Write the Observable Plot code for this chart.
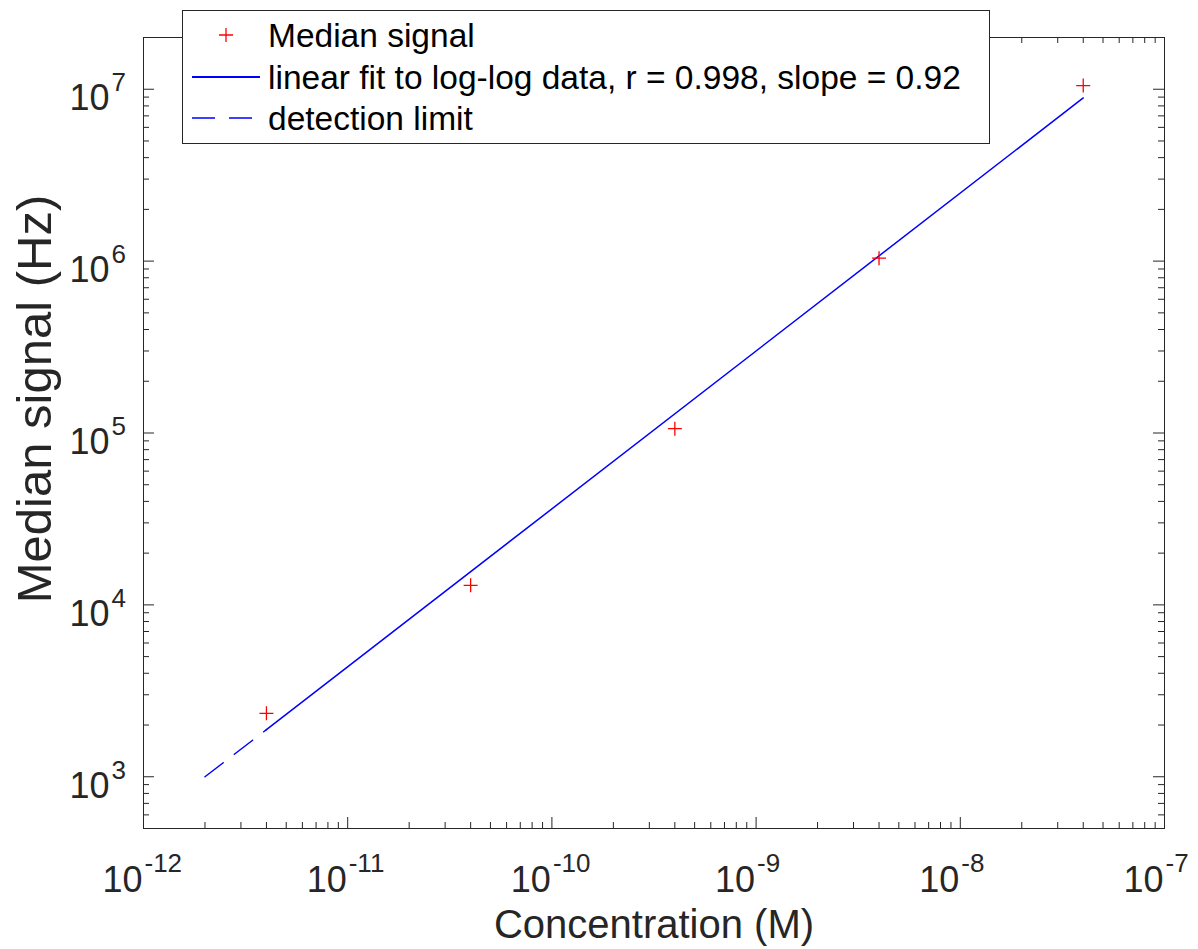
<!DOCTYPE html>
<html><head><meta charset="utf-8">
<script src="https://cdn.jsdelivr.net/npm/d3@7"></script>
<script src="https://cdn.jsdelivr.net/npm/@observablehq/plot@0.6"></script>
<style>body{margin:0;background:#fff;} #chart{position:relative;width:1198px;height:949px;}</style>
</head><body><div id="chart"></div>
<script>
// ---- data ----
const concentration = [4e-12, 4e-11, 4e-10, 4e-9, 4e-8];
const medianSignal = [2340, 13000, 106000, 1040000, 10500000];
const fitX = [4e-12, 4e-8];
const fitY = [1880, 8.9e6];
const detX = [2e-12, 4e-12];
const detY = [1000, 1880];
const xDomain = [1e-12, 1e-7];
const yDomain = [500, 2e7];
const xMajor = [1e-12, 1e-11, 1e-10, 1e-9, 1e-8, 1e-7];
const xExpLabels = ["-12", "-11", "-10", "-9", "-8", "-7"];
const yMajor = [1e3, 1e4, 1e5, 1e6, 1e7];
const yExpLabels = ["3", "4", "5", "6", "7"];
const minorMult = [2, 3, 4, 5, 6, 7, 8, 9];
const legendLabels = ["Median signal", "linear fit to log-log data, r = 0.998, slope = 0.92", "detection limit"];
const xLabel = "Concentration (M)";
const yLabel = "Median signal (Hz)";

// ---- layout ----
const W = 1198, H = 949, mL = 143, mR = 34, mT = 37, mB = 121;
const innerW = W - mL - mR, innerH = H - mT - mB;
const FONT = "'Liberation Sans', Arial, Helvetica, sans-serif";
const AX = "#262626";
const MAJ = 11, MIN = 6;

const xMinor = [];
for (let e = -12; e < -7; e++) for (const m of minorMult) xMinor.push(m * Math.pow(10, e));
const yMinor = [];
for (let e = 2; e <= 7; e++) for (const m of minorMult) { const v = m * Math.pow(10, e); if (v > yDomain[0] && v < yDomain[1]) yMinor.push(v); }

const points = concentration.map((c, i) => ({c, s: medianSignal[i]}));
const fit = fitX.map((c, i) => ({c, s: fitY[i]}));
const det = detX.map((c, i) => ({c, s: detY[i]}));

const plusSymbol = {draw(ctx, size) { const r = Math.sqrt(size / Math.PI); ctx.moveTo(-r, 0); ctx.lineTo(r, 0); ctx.moveTo(0, -r); ctx.lineTo(0, r); }};

const tickStyle = {stroke: AX, strokeWidth: 1};

const chart = Plot.plot({
  width: W, height: H, marginLeft: mL, marginRight: mR, marginTop: mT, marginBottom: mB,
  style: {fontFamily: FONT, background: "white", overflow: "visible"},
  x: {type: "log", domain: xDomain, axis: null},
  y: {type: "log", domain: yDomain, axis: null},
  marks: [
    Plot.line(det, {x: "c", y: "s", stroke: "#0000ff", strokeWidth: 1.5, strokeDasharray: "23,14"}),
    Plot.line(fit, {x: "c", y: "s", stroke: "#0000ff", strokeWidth: 1.5}),
    Plot.dot(points, {x: "c", y: "s", symbol: plusSymbol, r: 7, stroke: "#ff0000", strokeWidth: 1.3, fill: "none"}),
    // ticks (inward, all four sides)
    Plot.tickX(xMajor, {x: d => d, insetTop: innerH - MAJ, ...tickStyle}),
    Plot.tickX(xMajor, {x: d => d, insetBottom: innerH - MAJ, ...tickStyle}),
    Plot.tickX(xMinor, {x: d => d, insetTop: innerH - MIN, ...tickStyle}),
    Plot.tickX(xMinor, {x: d => d, insetBottom: innerH - MIN, ...tickStyle}),
    Plot.tickY(yMajor, {y: d => d, insetRight: innerW - MAJ, ...tickStyle}),
    Plot.tickY(yMajor, {y: d => d, insetLeft: innerW - MAJ, ...tickStyle}),
    Plot.tickY(yMinor, {y: d => d, insetRight: innerW - MIN, ...tickStyle}),
    Plot.tickY(yMinor, {y: d => d, insetLeft: innerW - MIN, ...tickStyle}),
    Plot.frame({stroke: AX, strokeWidth: 1}),
    // tick labels
    Plot.text(xMajor, {x: d => d, text: () => "10", frameAnchor: "bottom", textAnchor: "end", lineAnchor: "bottom", dx: -1, dy: 63, fontSize: 36, fill: AX}),
    Plot.text(xMajor, {x: d => d, text: (d, i) => xExpLabels[i], frameAnchor: "bottom", textAnchor: "start", lineAnchor: "bottom", dx: 1, dy: 43, fontSize: 26, fill: AX}),
    Plot.text(yMajor, {y: d => d, text: () => "10", frameAnchor: "left", textAnchor: "end", lineAnchor: "bottom", dx: -34, dy: 21, fontSize: 36, fill: AX}),
    Plot.text(yMajor, {y: d => d, text: (d, i) => yExpLabels[i], frameAnchor: "left", textAnchor: "start", lineAnchor: "bottom", dx: -32, dy: 2, fontSize: 26, fill: AX}),
    // axis labels
    Plot.text([xLabel], {text: d => d, frameAnchor: "bottom", textAnchor: "middle", lineAnchor: "bottom", dy: 109, fontSize: 40, fill: AX}),
    Plot.text([yLabel], {text: d => d, frameAnchor: "left", textAnchor: "middle", lineAnchor: "bottom", rotate: -90, dx: -93, dy: -34, fontSize: 49, fill: AX})
  ]
});
document.getElementById("chart").appendChild(chart);

// ---- legend (overlapping the top of the axes) ----
const svg = d3.select(chart);
const lg = svg.append("g").attr("font-family", FONT).attr("text-anchor", "start");
const box = {x: 182, y: 10, w: 808, h: 133};
lg.append("rect").attr("x", box.x + 0.5).attr("y", box.y + 0.5).attr("width", box.w - 1).attr("height", box.h)
  .attr("fill", "white").attr("stroke", AX).attr("stroke-width", 1);
const rowY = [35, 77, 118];
const textX = 268, sampleX0 = 192, sampleX1 = 260, markX = 226;
// row 0: marker
lg.append("path").attr("d", `M${markX - 7},${rowY[0]}H${markX + 7}M${markX},${rowY[0] - 7}V${rowY[0] + 7}`)
  .attr("stroke", "#ff0000").attr("stroke-width", 1.3).attr("fill", "none");
// row 1: solid line
lg.append("line").attr("x1", sampleX0).attr("x2", sampleX1).attr("y1", rowY[1]).attr("y2", rowY[1])
  .attr("stroke", "#0000ff").attr("stroke-width", 1.8);
// row 2: dashed line
lg.append("line").attr("x1", sampleX0).attr("x2", sampleX1).attr("y1", rowY[2]).attr("y2", rowY[2])
  .attr("stroke", "#0000ff").attr("stroke-width", 1.4).attr("stroke-dasharray", "23,14");
legendLabels.forEach((t, i) => {
  lg.append("text").attr("x", textX).attr("y", rowY[i] + 12).attr("font-size", 33.5).attr("fill", "#000")
    .attr("text-anchor", "start").text(t);
});
</script>
</body></html>
